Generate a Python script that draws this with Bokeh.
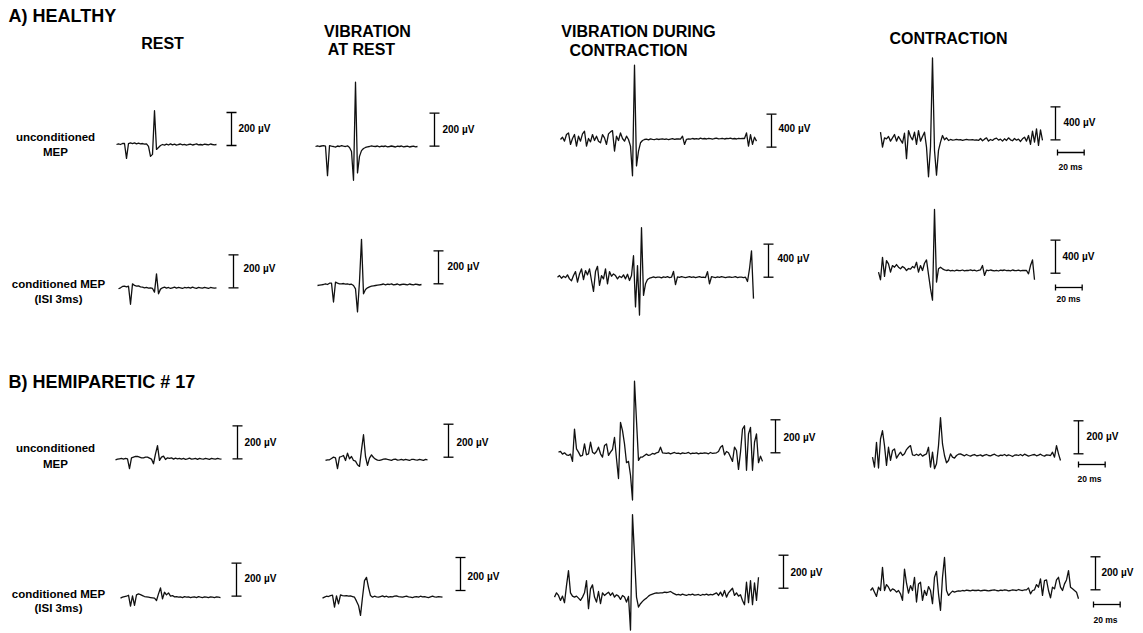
from bokeh.plotting import figure
from bokeh.models import Range1d
from bokeh.core.properties import value
from bokeh.embed import file_html
from bokeh.resources import INLINE

# ---------------- data: EMG samples (µV), one sample every STEP_MS ----------------
STEP_MS = 1.5

a_rest_unc = [0, 4, 0, 6, 6, -84, 6, 10, 6, 10, 4, 8, 4, 6, 2, 4, -12, -72, -60, 205,
              -30, -18, -6, 0, -4, 2, -3, 4, -2, 2, -4, 0, 3, -2, 1, -4, 0, 2, -3, 0,
              4, -2, 0, -3, 2, 0, -2, 3, 0, -2, 0]
a_vibrest_unc = [0, 4, 0, 3, 5, 2, -177, 5, 2, 0, -4, 3, 0, 5, 2, 0, 4, -6, -30, -205,
                 390, -160, -60, -25, -12, -6, -2, 0, 4, 1, 0, 3, -2, 2, 0, 3, -2, 0, 3, 0,
                 -3, 2, 0, 3, -2, 0, 2, -3, 0, 2, -2, 0]
a_vibcon_unc = [-12, 16, -32, 48, 68, -72, 0, 48, -92, 28, -32, 56, 88, -92, 0, -40, 48, -24, 28, -32,
                -52, 48, 8, -72, 56, 80, 96, -152, 28, -24, 68, 0, -32, 28, -12, -92,
                -452, 888, -332, -152, -52, -24,
                -12, -8, -16, -4, -10, -14, -6, -12, -8, -4, -10, -6, -14, -8, -2, -10, -6, -4, -8,
                28, -72,
                -10, -4, -8, 0, -6, -2, -8, 4, -4, 0, -6, 2, -2, -8, 0, 4, -4, -2, 2, -6, 0, -2, 4, -4, 0, -6, 2, -2, 0,
                0, 68, -92, 48, -72, 16, -32]
a_con_unc = [92, -88, 24, 12, 40, -16, 24, 64, -16, 40, 0, -40, 80, -228, 112, 40, 0, 92, -56, 112,
             -16, 40, 92, -88, -448, -88, 992, -128, -428, -128, -28, 52, 0, 24, -8,
             4, -4, 0, 6, -2, 2, -6, 0, 4, -2, 0, 2, -4, 0, -8, 16, -12, 8, 24, -16,
             4, -8, 12, 20, -4, 8, -16, 12, -8, 24, 0, -12, 16, -4, 8, -20, 12, 32, -16,
             52, -56, 104, -28, 132, -68, 120, -8]

a_rest_con = [-6, 0, 8, 10, 6, 10, -100, 24, 14, 10, 12, 6, 4, 0, 2, -2, 0, -4, -26, 84,
              -36, -8, 0, 4, -2, 2, -4, 0, 4, -2, 2, 0, -4, 2, 0, 3, -2, 4, 0, -3,
              2, 0, -2, 3, 0, -4, 2, 0, -2, 0]
a_vibrest_con = [-6, -4, -2, 0, 4, 0, 8, 8, -106, 14, 8, 4, 4, 6, 2, 4, 0, 2, -6, -26,
                 -166, 20, 274, -56, -30, -20, -14, -10, -8, -6, -4, -2, 0, 3, -2, 2, 0, 4, -2, 0,
                 3, -3, 0, 2, 0, -2, 3, 0, -2, 2, 0, -3, 0]
a_vibcon_con = [0, 20, -12, 12, -4, 28, -20, -44, 20, 68, -60, 40, 100, -28, 80, 28, 100, -40, -172, 68,
                132, -100, 20, -20, 100, -80, 68, 12, 40, 20, -20, 12, -4, 28, -20, 36, -40, 20, 260, -360,
                140, -460, 600, -220, -80, -28, -12,
                -4, 4, -6, 2, 0, -8, 4, -2, 6, -4, 0,
                70, -90,
                4, -2, 6, 0, -4, 2, 8, -2, 4, -6, 0, 6, -2, 2, -4,
                68, -80,
                6, 0, -4, 4, -2, 6, 0, -6, 2, 4, -2, 0, 6, -4, 2, 0, -4,
                0, -52, 100, 320, -260]
a_con_con = [-20, -112, 160, -72, 120, 80, -20, 60, 40, 72, 40, 20, 48, 32, 0, 24, 16, 48, 32, 100,
             -20, 60, 0, 88, 128, -48, -220, -360, 740, -140, 20, 40, 20, 8,
             0, 6, -4, 2, -6, 4, 0, -2, 6, -4, 2, 0, 8, -2, 4, -6, 2, 8,
             60, -60,
             4, -2, 6, 0, -4, 2, -6, 4, 0, 6, -2, 2, -4, 6, 0, -2, 4, -4, 2, 0, 0,
             -40, 60, 128, -112]

b_rest_unc = [-6, -2, 0, 2, -2, 2, 0, -60, 6, 10, 14, 14, 10, 6, 6, 10, 10, 4, -2, -30,
              30, 80, -10, 10, 16, -4, 6, 2, 6, -2, 4, 0, 3, -2, 2, -3, 0, 4, -2, 0,
              2, -3, 3, 0, -2, 2, 0, -3, 2, 0, -2, 3, 0, -2]
b_vibrest_unc = [-4, 0, 0, 8, 16, 12, -54, 16, 20, 26, -4, 40, 6, 20, -4, -8, -30, -40, 60, 152,
                 20, -34, 10, 30, 14, 4, -2, -4, 0, 4, 6, 2, 0, -3, 2, 4, -2, 0, 3, -2,
                 2, 0, -4, 2, 3, 0, -2, 2, 0, -3, 2, 0]
b_vibcon_unc = [10, 14, -2, 6, -6, -10, -2, -46,
                150, 30,
                10, -14, -10, 60, -6, 0, 70, 10, 0, 14, 40, 0, -20, 50, 60, -10, 10, 26, 100, -30,
                -150, 190, 140, 60, -54, -46, -130, -280, 440, 200, -40,
                -20, -20, -10, -2, -10, -6, 2, -2, 6, 10, 40, 6,
                4, 2, 6, 0, 4, 8, 2, 4, 0, 6, 2, 4, 8, 0, 4, 2, 6, 0, 4, 2, 6, 4, 0, 8, 2, 4, 6,
                14, 40, 50, -6, 14, 6, -20, -46, 40, 20, -94, 10, 150, 170, -100, 120, 160, -100, 70, 120,
                -54, -14, -46]
b_con_unc = [-10, -70, 80, -76, 100, 150, 60, -60, 50, -30, 30, 40, -16, 4, 20, 0, 10, 36, 50, 60,
             4, 0, 8, 0, 10, -4, 4, 10, 50, -70, 20, -80, -50, 60, 230, 70, 0, -44, -30, 10,
             -10, -16, 0, 8, 10,
             4, -2, 6, 0, -4, 2, 6, -2, 0, 4, -4, 2, 6, 0, -2, 4, 8, 0, -4, 2,
             0, 6, -2, 4, 0, -6, 2, 4, 0, 6, -2, 8, 2, -4, 0, 4, 6, -2, 2, 8, 0, -4, 4, 2,
             0, 20, -10, 60, 10, -30]

b_rest_con = [-6, 0, 4, 6, 12, -54, 8, -50, 14, 20, 16, 10, 4, 2, 0, -2, -4, -6, -20, 20,
              56, -10, 30, 14, 26, 6, 10, 2, 4, 0, 2, -2, 3, 0, 2, -3, 0, 2, -2, 3,
              0, -2, 2, 0, -3, 2, 0, -2, 2, 0, -2]
b_vibrest_con = [-6, 0, 6, 4, 10, 12, -60, 8, -40, 14, 10, 8, 10, 6, 8, 4, 0, -24, -50, -110,
                 0, 100, 120, 60, 10, 0, 6, 2, 0, 4, 8, 2, 6, 0, 4, 2, 6, 8, 4, 2,
                 0, 4, 6, 2, 0, -2, 2, 4, 0, 6, 2, 4, 0, -2, 2, 6, 2, 0, 4, 2, 0]
b_vibcon_con = [-14, 12, -4, -34, -8, -48, 56, 146, 12, -8, -14, -8, -20, -34, -14, 12, 86, -84, 36, 60,
                -14, -44, 20, -54, 12, -4, 6, 16, -4, 12, -14, 0, -8, -28, -4, -14, -44, -10,
                -214, 486, 236, -14, -74, -54, -40, -28, -20, -8,
                0, 4, 8, 12, 10, 12, 12, 16, 14, 16, 20, 12, 6, 0,
                2, -2, 4, 0, -4, 2, 0, 4, -2, 0, 2, -4, 2, 0, 4, -2, 2, 0, 6,
                12, -4, 16, -8, 26, -14, 12, 26, 40, -4, 12, -8, 0, -34, -60, 76, -48, 86, -60, 72,
                -34, 106]
b_con_con = [0, 16, -10, -36, 20, 0, 140, 0, 36, 20, -4, 10, 4, -10, 0, -20, -60, 130, 44, -16,
             30, 0, 80, -70, 40, 50, -60, 0, -30, 24, 0, -80, 80, 116, -20, -120, 80, 200, 0, -30,
             -16, -4, -10,
             -6, -2, -4, 0, -2, 2, 0, -2, 2, 0, 0, 2, -2, 0, 2, 0, -2, 0, 2, 4,
             0, -2, 2, 0, 4, 2, -2, 0, 4, 2, 0, 6, 2, 0, 4,
             4, 16, -20, 0, 4, 36, 20, 70, -30, 60, 64, 0, -44, 20, 10, 64, 80, 20, 0, 40,
             64, 120, 20, 10, 0, -10, -50]

# calibration bars
time_bar_ms = 20

# ---------------- texts ----------------
section_titles = ["A) HEALTHY", "B) HEMIPARETIC # 17"]
column_titles = ["REST", "VIBRATION", "AT REST", "VIBRATION DURING", "CONTRACTION", "CONTRACTION"]
row_labels = ["unconditioned", "MEP", "conditioned MEP", "(ISI 3ms)"]

# ---------------- layout (pixels) ----------------
W, H = 1143, 633
PX_PER_MS = 2.0 / STEP_MS
BAR_PX = 33.0
CAP_PX = 5.0
FONT = value("Liberation Sans")

# (data, bar µV, trace start x, baseline y, bar x, bar bottom y, label x, label y, time bar (x, y, tx, ty) or None)
panels = [
    (a_rest_unc, 200, 116, 144.0, 231, 145.0, 238, 128, None),
    (a_vibrest_unc, 200, 315, 146.0, 434, 145.7, 442, 129, None),
    (a_vibcon_unc, 400, 560, 138.0, 771, 146.7, 778, 128, None),
    (a_con_unc, 400, 880, 139.3, 1055, 139.3, 1063, 122, (1057, 152, 1070, 166)),
    (a_rest_con, 200, 118, 287.3, 233, 287.3, 243, 268, None),
    (a_vibrest_con, 200, 317, 284.0, 438, 283.3, 447, 266, None),
    (a_vibcon_con, 400, 557, 276.7, 768, 276.7, 777, 258, None),
    (a_con_con, 400, 878, 270.0, 1055, 272.7, 1062, 256, (1055, 287, 1068, 298)),
    (b_rest_unc, 200, 115, 458.3, 237, 458.3, 244, 442, None),
    (b_vibrest_unc, 200, 325, 459.3, 448, 456.7, 456, 442, None),
    (b_vibcon_unc, 200, 558, 453.3, 775, 452.3, 783, 437, None),
    (b_con_unc, 200, 872, 455.0, 1078, 453.3, 1086, 436, (1078, 464, 1089, 478)),
    (b_rest_con, 200, 120, 596.7, 236, 595.7, 244, 578, None),
    (b_vibrest_con, 200, 322, 596.7, 460, 590.0, 467, 576, None),
    (b_vibcon_con, 200, 554, 594.3, 783, 587.7, 790, 572, None),
    (b_con_con, 200, 870, 590.0, 1095, 589.3, 1101, 572, (1093, 604, 1105, 619)),
]

p = figure(width=W, height=H, x_range=Range1d(0, W), y_range=Range1d(H, 0),
           output_backend="svg", toolbar_location=None, min_border=0,
           x_axis_type=None, y_axis_type=None)
p.grid.visible = False
p.outline_line_color = None
p.background_fill_color = "white"
p.border_fill_color = "white"

xr, yr = {}, {}
for k, pn in enumerate(panels):
    data, bar_uv, x0, y0 = pn[0], pn[1], pn[2], pn[3]
    sy = BAR_PX / bar_uv
    xr[f"t{k}"] = Range1d(-x0 / PX_PER_MS, (W - x0) / PX_PER_MS)
    yr[f"v{k}"] = Range1d((y0 - H) / sy, y0 / sy)
p.extra_x_ranges = xr
p.extra_y_ranges = yr

lab_x, lab_y, lab_t = [], [], []
ms_x, ms_y = [], []
for k, (data, bar_uv, x0, y0, bx, by, lx, ly, tb) in enumerate(panels):
    sy = BAR_PX / bar_uv
    rn = dict(x_range_name=f"t{k}", y_range_name=f"v{k}")
    t = [i * STEP_MS for i in range(len(data))]
    p.line(t, data, line_color="#111111", line_width=1.3, line_join="round", **rn)
    # amplitude calibration bar
    bt = (bx - x0) / PX_PER_MS
    bv = (y0 - by) / sy
    cap = CAP_PX / PX_PER_MS
    p.segment(x0=[bt, bt - cap, bt - cap], y0=[bv, bv, bv + bar_uv],
              x1=[bt, bt + cap, bt + cap], y1=[bv + bar_uv, bv, bv + bar_uv],
              line_color="black", line_width=1.3, **rn)
    lab_x.append(lx); lab_y.append(ly); lab_t.append(f"{bar_uv} µV")
    if tb is not None:
        tx, ty, ttx, tty = tb
        tt = (tx - x0) / PX_PER_MS
        tv = (y0 - ty) / sy
        tick = 3.0 / sy
        p.segment(x0=[tt, tt, tt + time_bar_ms], y0=[tv, tv - tick, tv - tick],
                  x1=[tt + time_bar_ms, tt, tt + time_bar_ms], y1=[tv, tv + tick, tv + tick],
                  line_color="black", line_width=1.3, **rn)
        ms_x.append(ttx); ms_y.append(tty)


def add_text(xs, ys, texts, size, align):
    p.text(x=xs, y=ys, text=texts, text_font=FONT, text_font_style="bold",
           text_font_size=size, text_align=align, text_baseline="middle", text_color="black")


add_text(lab_x, lab_y, lab_t, "10px", "left")
add_text(ms_x, ms_y, [f"{time_bar_ms} ms"] * len(ms_x), "8.5px", "center")
add_text([8, 8], [15, 381], section_titles, "18px", "left")
add_text([162, 367, 361, 638, 628, 948], [43, 31, 49, 31, 50, 38], column_titles, "16px", "center")
add_text([55, 55, 58, 58, 55, 55, 58, 58], [136, 151, 283, 298, 447, 463, 593, 607],
         row_labels + row_labels, "11.5px", "center")

open("out.html", "w").write(file_html(p, INLINE))
